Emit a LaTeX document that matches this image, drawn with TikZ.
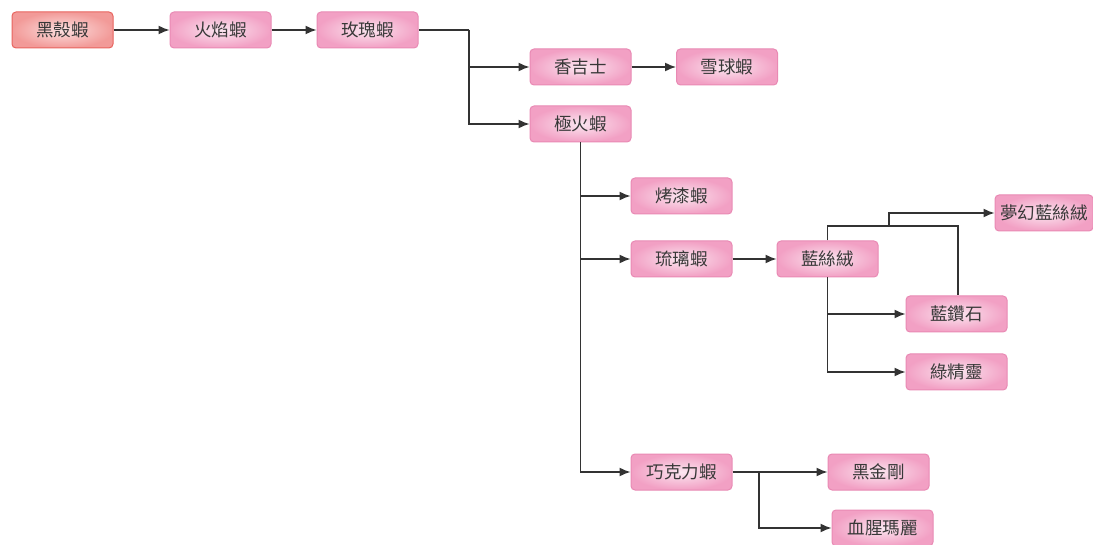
\documentclass[tikz,border=0pt]{standalone}
\usepackage{fontspec}
\newfontfamily\cjk{Noto Sans CJK TC}
\usetikzlibrary{arrows.meta}
\definecolor{pinkedge}{HTML}{E98AB4}
\definecolor{pinkout}{HTML}{F2A0C4}
\definecolor{pinkin}{HTML}{FBE6F0}
\definecolor{rededge}{HTML}{E8645E}
\definecolor{redout}{HTML}{F29A98}
\definecolor{redin}{HTML}{FCE0E0}
\definecolor{linec}{HTML}{333333}
\tikzset{
  box/.style={rectangle, rounded corners=4pt, draw=pinkedge, line width=1pt,
    inner color=pinkin, outer color=pinkout,
    minimum width=101pt, minimum height=36pt, inner sep=0pt,
    font=\cjk\fontsize{17.5}{19}\selectfont, text=black!78},
  rootbox/.style={box, draw=rededge, inner color=redin, outer color=redout},
  conn/.style={draw=linec, line width=1.5pt},
  arr/.style={conn, -{Latex[length=11pt,width=9pt]}},
}
\begin{document}
\begin{tikzpicture}[x=1pt,y=-1pt]
\useasboundingbox (0,0) rectangle (1093,545);
\fill[white] (0,0) rectangle (1093,545);
\node[rootbox] (a) at (62.5,30) {黑殼蝦};
\node[box] (b) at (220.5,30) {火焰蝦};
\node[box] (c) at (367.5,30) {玫瑰蝦};
\node[box] (d) at (580.5,67) {香吉士};
\node[box] (e) at (727,67) {雪球蝦};
\node[box] (f) at (580.5,124) {極火蝦};
\node[box] (g) at (681.5,196) {烤漆蝦};
\node[box] (h) at (681.5,259) {琉璃蝦};
\node[box] (i) at (827.5,259) {藍絲絨};
\node[box, minimum width=98pt] (j) at (1044,213) {夢幻藍絲絨};
\node[box] (k) at (956.5,314) {藍鑽石};
\node[box] (l) at (956.5,372) {綠精靈};
\node[box] (m) at (681.5,472) {巧克力蝦};
\node[box] (n) at (878.5,472) {黑金剛};
\node[box] (o) at (882.5,528) {血腥瑪麗};
\coordinate (c1) at (469,30);
\coordinate (f1) at (580.5,472);
\coordinate (i1) at (827.5,226);
\coordinate (i2) at (958,226);
\coordinate (i3) at (889,226);
\coordinate (m1) at (759,472);
\draw[arr] (a) -- (b);
\draw[arr] (b) -- (c);
\draw[conn] (c.east) -- (c1);
\draw[arr] (c1) |- (d.west);
\draw[arr] (c1) |- (f.west);
\draw[arr] (d) -- (e);
\draw[conn] (f.south) -- (f1);
\draw[arr] (f.south) |- (g.west);
\draw[arr] (f.south) |- (h.west);
\draw[arr] (f.south) |- (m.west);
\draw[arr] (h) -- (i);
\draw[arr] (i.south) |- (k.west);
\draw[arr] (i.south) |- (l.west);
\draw[conn] (i.north) -- (i1) -- (i2) -- (i2 |- k.north);
\draw[arr] (i3) |- (j.west);
\draw[arr] (m) -- (n);
\draw[arr] (m1) |- (o.west);
\end{tikzpicture}
\end{document}
